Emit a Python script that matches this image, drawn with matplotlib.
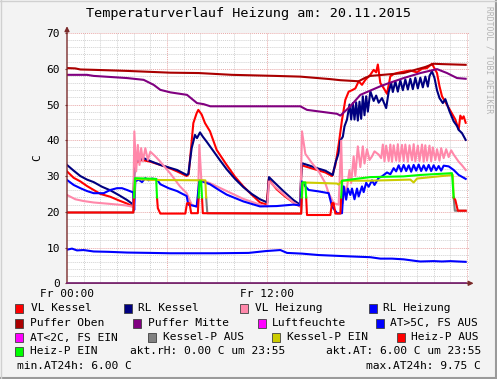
import matplotlib
matplotlib.use('Agg')
import matplotlib.pyplot as plt
import numpy as np
from matplotlib.patches import Rectangle
from matplotlib.lines import Line2D

W, H = 497, 379
MONO = 'DejaVu Sans Mono'

# hours since Fr 00:00, value in C
vl_kessel = [(0, 31.3), (0.4, 29.5), (0.8, 28.5), (1.2, 27.2), (1.6, 26.1), (2.0, 25.0), (2.6, 24.2),
             (3.1, 23.2), (3.6, 22.3), (3.98, 21.4), (4.05, 33.5), (4.5, 34.5), (5.0, 34.0), (5.6, 33.1),
             (6.0, 32.5), (6.6, 31.3), (7.18, 30.0), (7.3, 30.5), (7.58, 44.8), (7.78, 47.6), (7.88, 48.5),
             (8.08, 47.2), (8.28, 44.8), (8.58, 42.5), (8.98, 37.3), (9.58, 33.1), (10.08, 29.8),
             (10.58, 27.1), (11.08, 24.8), (11.58, 22.6), (11.98, 22.0), (12.1, 29.0), (12.58, 26.3),
             (13.08, 24.3), (13.58, 22.6), (13.98, 21.5), (14.08, 33.0), (14.5, 32.4), (15.0, 31.7),
             (15.5, 31.0), (15.9, 30.0), (16.1, 33.0), (16.3, 38.8), (16.5, 45.7), (16.7, 51.3),
             (16.9, 53.6), (17.1, 54.0), (17.3, 54.5), (17.5, 56.5), (17.7, 55.5), (17.9, 56.9),
             (18.2, 58.3), (18.4, 59.7), (18.55, 59.0), (18.65, 61.2), (18.8, 56.0), (19.0, 54.6),
             (19.2, 53.0), (19.4, 57.9), (19.6, 58.5), (19.8, 58.8), (20.2, 59.2), (20.6, 59.5),
             (21.0, 59.0), (21.3, 60.0), (21.6, 60.2), (21.9, 61.4), (22.2, 58.8), (22.35, 55.1),
             (22.5, 52.3), (22.9, 49.1), (23.3, 45.8), (23.5, 43.0), (23.6, 46.9), (23.7, 46.0),
             (23.8, 46.7), (23.92, 44.9)]

rl_kessel = [(0, 33.1), (0.4, 31.5), (0.8, 30.0), (1.2, 29.0), (1.6, 28.3), (2.1, 27.0), (2.6, 26.0),
             (3.1, 24.7), (3.6, 23.3), (3.98, 22.0), (4.05, 34.0), (4.6, 35.0), (5.1, 34.0), (5.6, 33.1),
             (6.1, 32.4), (6.6, 31.7), (7.18, 30.3), (7.28, 30.6), (7.48, 37.8), (7.68, 41.5), (7.8, 40.6),
             (7.98, 42.2), (8.15, 41.0), (8.38, 39.6), (8.78, 37.0), (9.18, 34.4), (9.58, 31.9),
             (10.08, 29.2), (10.58, 26.9), (11.08, 25.0), (11.58, 23.5), (12.02, 22.6), (12.12, 29.7),
             (12.38, 28.5), (12.98, 25.8), (13.58, 23.3), (13.98, 22.0), (14.08, 33.6), (14.5, 33.0),
             (15.0, 32.2), (15.5, 31.5), (15.95, 30.3), (16.1, 33.6), (16.3, 36.4), (16.4, 39.9),
             (16.55, 41.0), (16.65, 43.9), (16.8, 45.8), (16.95, 50.0), (17.05, 45.8), (17.15, 50.4),
             (17.25, 45.8), (17.35, 50.6), (17.45, 45.5), (17.55, 50.8), (17.65, 46.0), (17.75, 52.3),
             (17.85, 47.0), (17.95, 52.3), (18.05, 48.0), (18.2, 53.7), (18.4, 51.0), (18.55, 52.5),
             (18.7, 50.5), (18.9, 51.8), (19.15, 49.0), (19.3, 53.5), (19.45, 56.0), (19.55, 53.5),
             (19.7, 56.5), (19.85, 53.6), (20.0, 56.8), (20.15, 54.0), (20.3, 57.0), (20.45, 54.2),
             (20.6, 57.2), (20.75, 54.3), (20.9, 57.5), (21.05, 54.5), (21.2, 57.5), (21.35, 54.8),
             (21.5, 57.8), (21.65, 55.0), (21.75, 58.0), (21.9, 59.3), (22.05, 57.4), (22.2, 54.0),
             (22.35, 51.8), (22.55, 50.4), (22.7, 51.5), (22.95, 48.1), (23.2, 45.3), (23.4, 44.0),
             (23.5, 42.9), (23.7, 42.0), (23.92, 40.1)]

vl_heizung = [(0, 24.7), (0.5, 23.5), (1.0, 23.0), (1.6, 22.6), (2.6, 22.2), (3.5, 21.8), (3.98, 21.4),
              (4.04, 42.5), (4.15, 31.3), (4.25, 38.7), (4.35, 33.1), (4.45, 37.8), (4.55, 34.1),
              (4.7, 37.8), (4.85, 34.5), (5.0, 36.8), (5.3, 35.5), (5.58, 34.1), (6.18, 30.8),
              (6.78, 27.1), (7.18, 25.2), (7.48, 22.0), (7.85, 21.2), (7.94, 38.7), (8.06, 28.9),
              (8.58, 28.0), (9.58, 25.8), (10.58, 23.6), (11.58, 22.0), (12.02, 21.5), (12.12, 28.5),
              (12.58, 26.6), (13.58, 22.6), (14.0, 21.5), (14.1, 42.5), (14.3, 36.2), (14.7, 33.6),
              (15.1, 31.3), (15.5, 28.0), (15.7, 25.2), (16.0, 22.4), (16.3, 22.0), (16.45, 39.9),
              (16.55, 22.4), (16.65, 27.0), (16.75, 25.2), (16.95, 31.7), (17.05, 28.0), (17.2, 35.5),
              (17.3, 30.0), (17.45, 38.3), (17.6, 32.5), (17.75, 38.3), (17.85, 33.5), (18.0, 37.5),
              (18.15, 34.5), (18.3, 35.5), (18.45, 36.9), (18.7, 36.0), (18.85, 35.0), (18.95, 38.8),
              (19.05, 34.1), (19.15, 38.5), (19.3, 34.2), (19.4, 38.8), (19.5, 34.0), (19.6, 38.6),
              (19.75, 34.3), (19.85, 38.9), (19.95, 34.1), (20.1, 38.7), (20.2, 34.2), (20.3, 38.8),
              (20.45, 34.0), (20.55, 38.6), (20.7, 34.4), (20.8, 38.9), (20.9, 34.1), (21.05, 38.5),
              (21.15, 34.2), (21.3, 38.8), (21.4, 34.0), (21.5, 38.6), (21.6, 34.3), (21.75, 38.5),
              (21.85, 34.1), (21.95, 38.0), (22.1, 34.5), (22.2, 37.5), (22.35, 34.3), (22.45, 37.8),
              (22.6, 35.0), (22.75, 37.5), (22.9, 35.3), (23.05, 37.2), (23.2, 36.0), (23.5, 34.0),
              (23.7, 33.0), (23.92, 31.7)]

rl_heizung = [(0, 28.9), (0.4, 27.5), (0.8, 26.6), (1.2, 25.8), (1.6, 25.2), (2.2, 25.2), (2.6, 26.1),
              (3.0, 26.6), (3.3, 26.6), (3.6, 26.1), (3.98, 25.4), (4.03, 20.5), (4.1, 28.5), (4.3, 29.0),
              (4.5, 28.3), (4.7, 29.4), (4.9, 28.8), (5.1, 29.3), (5.4, 29.0), (5.6, 27.7), (6.1, 26.6),
              (6.6, 25.8), (7.18, 24.4), (7.28, 22.0), (7.78, 21.5), (7.94, 28.8), (8.58, 27.7),
              (9.08, 26.2), (9.58, 24.8), (10.58, 22.9), (11.58, 21.5), (12.58, 21.6), (13.58, 22.0),
              (14.0, 21.8), (14.1, 28.5), (14.3, 27.1), (14.5, 26.1), (15.1, 25.7), (15.7, 25.2),
              (15.9, 21.5), (16.2, 19.6), (16.5, 19.6), (16.6, 27.1), (16.75, 23.4), (16.85, 26.5),
              (17.0, 24.7), (17.1, 26.5), (17.25, 23.5), (17.4, 26.5), (17.5, 24.3), (17.7, 27.1),
              (17.8, 25.5), (17.95, 28.1), (18.1, 27.0), (18.3, 28.8), (18.45, 27.5), (18.7, 29.5),
              (18.9, 29.9), (19.2, 31.0), (19.4, 30.5), (19.6, 32.2), (19.75, 31.3), (19.9, 33.0),
              (20.05, 31.3), (20.2, 33.1), (20.35, 31.4), (20.5, 33.0), (20.65, 31.2), (20.8, 33.1),
              (20.95, 31.5), (21.1, 33.2), (21.25, 31.4), (21.4, 33.0), (21.55, 31.5), (21.7, 33.1),
              (21.85, 31.4), (22.0, 33.0), (22.15, 31.6), (22.3, 32.8), (22.45, 31.5), (22.6, 32.9),
              (22.9, 32.7), (23.2, 31.7), (23.5, 30.3), (23.92, 29.2)]

puffer_oben = [(0, 60.2), (0.5, 60.1), (0.8, 59.8), (1.6, 59.7), (3.6, 59.4), (6.2, 58.9), (7.9, 58.8),
               (9.9, 58.3), (12.5, 58.0), (14.0, 57.8), (15.8, 57.1), (16.4, 56.8), (17.5, 56.5),
               (17.9, 57.5), (18.2, 58.0), (20.2, 58.8), (21.5, 60.5), (22.0, 61.4), (22.5, 61.3),
               (23.92, 61.1)]

puffer_mitte = [(0, 58.3), (1.2, 58.3), (1.6, 58.0), (3.6, 57.4), (4.6, 56.9), (5.2, 55.5), (5.6, 54.1),
                (6.2, 53.4), (7.2, 52.7), (7.8, 50.4), (8.2, 50.1), (8.6, 49.5), (14.0, 49.5), (14.4, 48.5),
                (16.2, 47.4), (16.4, 46.9), (17.0, 49.5), (17.6, 52.7), (18.8, 55.1), (19.2, 55.8),
                (20.2, 57.4), (21.2, 58.8), (22.2, 59.9), (22.8, 58.8), (23.4, 57.4), (23.92, 57.2)]

luftfeuchte = [(0, 0.0), (23.92, 0.0)]

aussen = [(0, 9.4), (0.3, 9.7), (0.6, 9.2), (1.0, 9.3), (1.6, 8.9), (2.5, 8.8), (3.6, 8.6), (5.0, 8.5),
          (6.2, 8.4), (8.9, 8.4), (10.9, 8.5), (11.9, 9.0), (12.5, 9.2), (12.8, 9.3), (13.2, 8.5),
          (14.1, 8.3), (15.1, 7.9), (16.1, 7.7), (17.1, 7.5), (18.2, 7.3), (18.8, 6.9), (19.5, 6.9),
          (20.2, 6.7), (21.0, 6.2), (21.2, 6.1), (22.0, 6.2), (22.5, 6.1), (23.0, 6.2), (23.92, 6.0)]

kessel_p = [(0, 19.8), (3.98, 19.8), (4.03, 24), (4.1, 29.2), (5.0, 28.9), (8.3, 28.8), (8.35, 24),
            (8.42, 19.6), (14.05, 19.5), (14.1, 24), (14.15, 28.2), (16.2, 27.9), (16.3, 27.6),
            (16.5, 28.7), (18.2, 28.7), (20.6, 29.0), (20.8, 28.2), (21.0, 29.3), (23.15, 30.3),
            (23.2, 24), (23.27, 20.3), (23.92, 20.3)]

heiz_p = [(0, 19.8), (3.98, 19.8), (4.02, 24), (4.08, 29.4), (5.35, 29.2), (5.4, 24), (5.45, 21.0),
          (5.6, 19.5), (7.1, 19.5), (7.2, 22.4), (7.35, 22.4), (7.45, 19.6), (7.85, 19.6), (7.9, 24),
          (7.95, 28.5), (8.05, 28.5), (8.1, 24), (8.15, 19.6), (14.05, 19.5), (14.08, 24), (14.12, 28.2),
          (14.3, 28.2), (14.35, 24), (14.4, 19.1), (15.8, 19.1), (15.9, 22.4), (16.0, 22.4), (16.1, 19.5),
          (16.4, 19.5), (16.45, 24), (16.5, 28.7), (17.5, 29.3), (18.2, 29.7), (20.2, 29.9), (21.2, 30.3),
          (23.1, 30.8), (23.2, 24), (23.3, 23.3), (23.45, 20.3), (23.92, 20.3)]

legend_rows = [
    [('VL Kessel', '#ff0000', 15, 31), ('RL Kessel', '#000080', 124, 138),
     ('VL Heizung', '#ff88aa', 240, 255), ('RL Heizung', '#0000ff', 369, 383)],
    [('Puffer Oben', '#aa0000', 15, 30), ('Puffer Mitte', '#800080', 133, 148),
     ('Luftfeuchte', '#ff00ff', 258, 272), ('AT>5C, FS AUS', '#0000ff', 376, 390)],
    [('AT<2C, FS EIN', '#ff00ff', 15, 30), ('Kessel-P AUS', '#808080', 148, 163),
     ('Kessel-P EIN', '#cccc00', 272, 287), ('Heiz-P AUS', '#ff0000', 397, 411)],
    [('Heiz-P EIN', '#00ff00', 15, 30)],
]
row_y = [308, 323, 337.5, 351.5, 366]


def xy(series):
    a = np.array(series, dtype=float)
    return a[:, 0], a[:, 1]


def fx(px):
    return px / W


def fy(py):
    return 1 - py / H


fig = plt.figure(figsize=(W / 100, H / 100), dpi=100, facecolor='#f3f3f3')
ax = fig.add_axes([fx(67), fy(283.3), 402 / W, 250.3 / H])
ax.set_facecolor('white')
ax.set_xlim(0, 24.12)
ax.set_ylim(0, 70)

# grid: minor every hour / 2 C, major every 6 h / 10 C
for h in range(1, 25):
    major = h % 6 == 0
    ax.axvline(h, color='#e8a8a8' if major else '#d2d2d2', lw=0.7,
               dashes=(1, 1), zorder=0)
for c in range(2, 72, 2):
    major = c % 10 == 0
    ax.axhline(c, color='#e8a8a8' if major else '#d2d2d2', lw=0.7,
               dashes=(1, 1), zorder=0)

lw = 1.5
ax.plot(*xy(vl_kessel), color='#ff0000', lw=lw)
ax.plot(*xy(rl_kessel), color='#000080', lw=lw)
ax.plot(*xy(vl_heizung), color='#ff88aa', lw=lw)
ax.plot(*xy(rl_heizung), color='#0000ff', lw=lw)
ax.plot(*xy(puffer_oben), color='#aa0000', lw=lw)
ax.plot(*xy(puffer_mitte), color='#800080', lw=lw)
ax.plot(*xy(aussen), color='#0000ff', lw=lw)

kt, kv = xy(kessel_p)
ax.plot(kt, np.where(kv <= 24, kv, np.nan), color='#808080', lw=lw)
ax.plot(kt, np.where(kv >= 24, kv, np.nan), color='#cccc00', lw=lw)
ht, hv = xy(heiz_p)
ax.plot(ht, np.where(hv <= 24, hv, np.nan), color='#ff0000', lw=lw)
ax.plot(ht, np.where(hv >= 24, hv, np.nan), color='#00ff00', lw=lw)

# axes with arrows
for s in ax.spines.values():
    s.set_visible(False)
ax.annotate('', xy=(0, 71.9), xytext=(0, 0), annotation_clip=False,
            arrowprops=dict(arrowstyle='-|>', color='#7a2a2a', lw=1, mutation_scale=7,
                            shrinkA=0, shrinkB=0))
ax.annotate('', xy=(24.4, 0), xytext=(0, 0), annotation_clip=False,
            arrowprops=dict(arrowstyle='-|>', color='#7a2a2a', lw=1, mutation_scale=7,
                            shrinkA=0, shrinkB=0))
ax.plot(*xy(luftfeuchte), color='#7a2a7a', lw=1.2, clip_on=False, zorder=3)

ax.set_yticks(range(0, 71, 10))
ax.set_yticklabels([str(v) for v in range(0, 71, 10)], fontfamily=MONO, fontsize=8)
ax.set_xticks([0, 12])
ax.set_xticklabels(['Fr 00:00', 'Fr 12:00'], fontfamily=MONO, fontsize=8)
ax.tick_params(axis='y', length=1.5, width=0.8, color='#7a2a2a', pad=3.5)
ax.tick_params(axis='x', length=0, pad=4)

fig.text(fx(248), fy(14), 'Temperaturverlauf Heizung am: 20.11.2015', ha='center', va='center',
         fontfamily=MONO, fontsize=9.7)
fig.text(fx(37), fy(158), 'C', rotation=90, ha='center', va='center', fontfamily=MONO, fontsize=8)
fig.text(fx(489), fy(6), 'RRDTOOL / TOBI OETIKER', rotation=270, ha='center', va='top',
         fontfamily=MONO, fontsize=5.8, color='#b4b4b4')

for row, y in zip(legend_rows, row_y):
    for label, col, sx, tx in row:
        fig.add_artist(Rectangle((fx(sx), fy(y + 4.5)), 8 / W, 9 / H, transform=fig.transFigure,
                                 facecolor=col, edgecolor='#404040', lw=0.6))
        fig.text(fx(tx), fy(y), label, ha='left', va='center', fontfamily=MONO, fontsize=8.1)

fig.text(fx(130), fy(row_y[3]), 'akt.rH: 0.00 C um 23:55', ha='left', va='center',
         fontfamily=MONO, fontsize=8.1)
fig.text(fx(481), fy(row_y[3]), 'akt.AT: 6.00 C um 23:55', ha='right', va='center',
         fontfamily=MONO, fontsize=8.1)
fig.text(fx(17), fy(row_y[4]), 'min.AT24h: 6.00 C', ha='left', va='center',
         fontfamily=MONO, fontsize=8.1)
fig.text(fx(481), fy(row_y[4]), 'max.AT24h: 9.75 C', ha='right', va='center',
         fontfamily=MONO, fontsize=8.1)

# frame of the image
fig.add_artist(Line2D([fx(495.5), fx(495.5)], [0, 1], color='#9a9a9a', lw=1.5))
fig.add_artist(Line2D([0, 1], [fy(377.5), fy(377.5)], color='#9a9a9a', lw=1.5))
fig.add_artist(Line2D([fx(0.5), fx(0.5)], [0, 1], color='#d0d0d0', lw=1))
fig.add_artist(Line2D([0, 1], [fy(0.5), fy(0.5)], color='#d0d0d0', lw=1))

fig.savefig('out.png', dpi=100, facecolor=fig.get_facecolor())
